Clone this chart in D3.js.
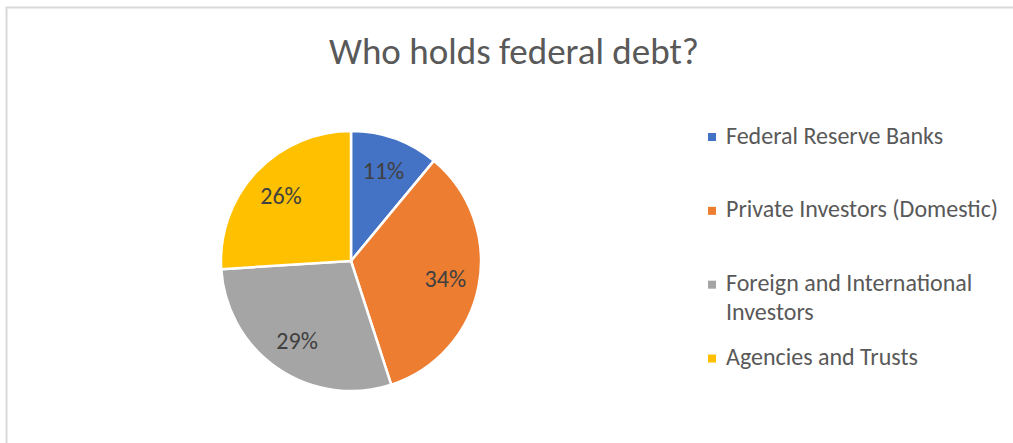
<!DOCTYPE html>
<meta charset="utf-8">
<style>
body { margin: 0; background: #fff; }
svg text { font-family: Calibri, Carlito, Lato, sans-serif; }
.title { font-size: 37px; fill: #595959; }
.legend text { font-size: 24px; fill: #595959; }
.slice-label { font-size: 24px; fill: #404040; }
</style>
<body>
<script src="https://d3js.org/d3.v7.min.js" charset="utf-8"></script>
<script>

// data
var holders = ["Federal Reserve Banks", "Private Investors (Domestic)",
               "Foreign and International Investors", "Agencies and Trusts"];
var shares = [11, 34, 29, 26];
var colors = ["#4472C4", "#ED7D31", "#A5A5A5", "#FFC000"];
// legend lines (third entry wraps)
var legendLines = [["Federal Reserve Banks"], ["Private Investors (Domestic)"],
                   ["Foreign and International", "Investors"], ["Agencies and Trusts"]];

var width = 1013,
    height = 443;

var cx = 351, cy = 261, radius = 130;

var svg = d3.select("body").append("svg")
    .attr("width", width)
    .attr("height", height);

// chart-area border, runs off the right and bottom edges
svg.append("rect")
    .attr("x", 6.5).attr("y", 7.5)
    .attr("width", width).attr("height", height)
    .attr("fill", "none")
    .attr("stroke", "#d9d9d9")
    .attr("stroke-width", 2);

svg.append("text")
    .attr("class", "title")
    .attr("x", 514)
    .attr("y", 64)
    .attr("text-anchor", "middle")
    .text("Who holds federal debt?");

var data = holders.map((h, i) => ({ name: h, value: shares[i], color: colors[i] }));

var pie = d3.pie().sort(null).value(d => d.value);
var arc = d3.arc().innerRadius(0).outerRadius(radius);
var labelArc = d3.arc().innerRadius(96).outerRadius(96);

var g = svg.append("g").attr("transform", `translate(${cx},${cy})`);

var arcs = pie(data);

g.selectAll("path")
    .data(arcs)
  .enter()
    .append("path")
    .attr("d", arc)
    .attr("fill", d => d.data.color)
    .attr("stroke", "#fff")
    .attr("stroke-width", 2.5)
    .attr("stroke-linejoin", "round");

var total = d3.sum(shares);
g.selectAll("text.slice-label")
    .data(arcs)
  .enter()
    .append("text")
    .attr("class", "slice-label")
    .attr("transform", d => `translate(${labelArc.centroid(d)})`)
    .attr("text-anchor", "middle")
    .attr("dy", "0.35em")
    .text(d => d3.format(".0%")(d.data.value / total));

// legend
var legendY = d3.scalePoint().domain(holders).range([143.5, 365]);

var legend = svg.append("g").attr("class", "legend")
    .selectAll("g")
    .data(data)
  .enter()
    .append("g")
    .attr("transform", d => `translate(0,${legendY(d.name)})`);

legend.append("rect")
    .attr("x", 708).attr("y", -10.5)
    .attr("width", 8).attr("height", 8)
    .attr("fill", d => d.color);

legend.append("text")
    .attr("x", 726)
    .selectAll("tspan")
    .data((d, i) => legendLines[i])
  .enter()
    .append("tspan")
    .attr("x", 726)
    .attr("y", (d, i) => i * 29)
    .text(d => d);

</script>
